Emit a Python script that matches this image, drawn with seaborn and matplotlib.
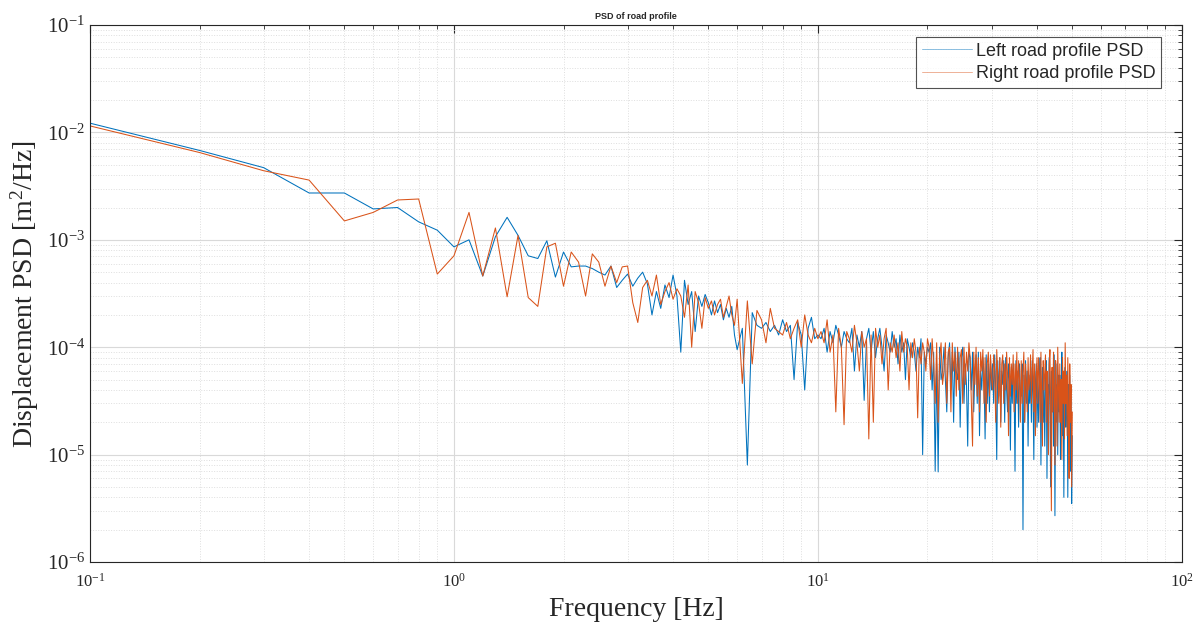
import numpy as np
import pandas as pd
import matplotlib
matplotlib.use("Agg")
import matplotlib.pyplot as plt
import seaborn as sns
from matplotlib.ticker import LogLocator, NullFormatter

# ---------------- data (PSD values in units of 1e-6 m^2/Hz) ----------------
# frequencies 0.1 ... 6.0 Hz (step 0.1) then 6.2 ... 50 Hz (step 0.2)
freq_low = [round(0.1 * k, 1) for k in range(1, 61)]
freq_high = [round(6.0 + 0.2 * k, 1) for k in range(1, 221)]
frequency = freq_low + freq_high

left_low = [
    12200, 6800, 4700, 2730, 2730, 1940, 2000, 1470, 1230, 860,
    1000, 460, 1070, 1620, 1100, 710, 670, 980, 450, 770,
    560, 570, 570, 540, 500, 470, 570, 360, 420, 480,
    370, 440, 500, 390, 200, 330, 230, 380, 290, 470,
    300, 90, 420, 250, 330, 140, 300, 240, 310, 260,
    200, 270, 210, 250, 180, 230, 190, 240, 130, 95,
]
right_low = [
    11500, 6500, 4400, 3600, 1500, 1800, 2350, 2400, 480, 710,
    1800, 460, 1290, 295, 1100, 290, 240, 860, 930, 370,
    770, 620, 300, 740, 620, 370, 570, 400, 560, 570,
    260, 170, 360, 420, 300, 470, 250, 330, 400, 280,
    350, 300, 190, 380, 100, 330, 260, 150, 290, 230,
    270, 200, 250, 280, 190, 240, 300, 200, 160, 280,
]
left_high = [
    150, 8, 210, 160, 150, 170, 140, 160, 130, 180,
    140, 160, 50, 170, 130, 40, 150, 190, 120, 130,
    120, 150, 90, 140, 110, 160, 130, 100, 140, 120,
    110, 150, 60, 130, 100, 140, 32, 120, 150, 90,
    140, 80, 120, 150, 100, 60, 130, 110, 90, 140,
    100, 120, 70, 130, 90, 110, 50, 120, 100, 80,
    110, 90, 60, 100, 80, 120, 10, 90, 70, 100,
    90, 110, 40, 90, 7, 70, 6.9, 100, 50, 60,
    100, 50, 25, 80, 110, 40, 90, 20, 100, 60,
    50, 90, 18, 80, 100, 30, 70, 45, 12, 90,
    80, 40, 90, 25, 60, 85, 30, 90, 15, 60,
    40, 80, 55, 14, 85, 30, 70, 25, 80, 40,
    70, 30, 85, 40, 9, 75, 35, 80, 20, 60,
    45, 75, 20, 80, 40, 25, 70, 50, 11, 65,
    30, 70, 45, 7, 75, 30, 60, 18, 70, 40,
    35, 70, 2, 55, 20, 75, 30, 60, 12, 55,
    30, 65, 20, 75, 35, 9, 60, 30, 70, 18,
    60, 20, 45, 80, 8, 40, 65, 20, 50, 12,
    45, 75, 6, 45, 20, 80, 35, 5, 60, 25,
    50, 12, 85, 2.7, 45, 20, 70, 10, 55, 25,
    55, 9, 35, 90, 15, 50, 4, 35, 65, 18,
    30, 60, 4, 45, 15, 55, 7, 35, 3.5, 15,
]
right_high = [
    46, 270, 70, 220, 180, 110, 230, 150, 140, 130,
    170, 120, 150, 180, 100, 200, 130, 110, 150, 120,
    140, 110, 180, 90, 130, 25, 150, 100, 19, 140,
    120, 90, 160, 110, 60, 140, 100, 120, 14, 130,
    20, 150, 100, 130, 70, 120, 150, 40, 110, 90,
    130, 80, 110, 60, 140, 90, 120, 100, 40, 110,
    80, 120, 90, 22, 100, 70, 110, 90, 60, 120,
    100, 50, 120, 70, 30, 110, 20, 80, 110, 45,
    60, 110, 30, 90, 100, 25, 110, 60, 90, 35,
    100, 40, 80, 95, 30, 100, 45, 90, 60, 110,
    80, 30, 12, 90, 45, 100, 35, 80, 25, 90,
    60, 95, 30, 80, 20, 70, 90, 35, 85, 50,
    40, 85, 60, 20, 95, 55, 30, 80, 18, 70,
    85, 30, 70, 40, 90, 55, 15, 80, 35, 70,
    45, 85, 25, 70, 40, 90, 30, 75, 50, 20,
    75, 30, 60, 90, 20, 70, 45, 25, 80, 40,
    50, 85, 30, 60, 95, 25, 70, 15, 55, 80,
    30, 80, 55, 20, 90, 35, 12, 75, 40, 60,
    85, 20, 60, 40, 10, 70, 95, 30, 3, 65,
    25, 90, 45, 8, 75, 40, 12, 100, 45, 20,
    70, 20, 50, 9, 80, 30, 60, 14, 110, 30,
    55, 15, 80, 25, 6, 70, 20, 45, 5, 25,
]
left_psd = [v * 1e-6 for v in left_low + left_high]
right_psd = [v * 1e-6 for v in right_low + right_high]

labels = ["Left road profile PSD", "Right road profile PSD"]
colors = ["#0072BD", "#D95319"]

df = pd.DataFrame({
    "Frequency": frequency * 2,
    "PSD": left_psd + right_psd,
    "Series": [labels[0]] * len(frequency) + [labels[1]] * len(frequency),
})

# ---------------- style ----------------
sns.set_style("white")
plt.rcParams["font.family"] = ["Liberation Serif", "DejaVu Serif"]
plt.rcParams["mathtext.fontset"] = "custom"
plt.rcParams["mathtext.rm"] = "Liberation Serif"
plt.rcParams["mathtext.it"] = "Liberation Serif:italic"
plt.rcParams["axes.unicode_minus"] = False

fig = plt.figure(figsize=(11.95, 6.26), dpi=100)
ax = fig.add_axes([0.0753, 0.1022, 0.9137, 0.8578])

sns.lineplot(data=df, x="Frequency", y="PSD", hue="Series",
             palette=dict(zip(labels, colors)), linewidth=0.75,
             sort=False, estimator=None, ax=ax)

ax.set_xscale("log")
ax.set_yscale("log")
ax.set_xlim(0.1, 100)
ax.set_ylim(1e-6, 1e-1)

ax.xaxis.set_major_locator(LogLocator(base=10, numticks=10))
ax.xaxis.set_minor_locator(LogLocator(base=10, subs=np.arange(2, 10), numticks=50))
ax.yaxis.set_major_locator(LogLocator(base=10, numticks=10))
ax.yaxis.set_minor_locator(LogLocator(base=10, subs=np.arange(2, 10), numticks=50))
ax.xaxis.set_minor_formatter(NullFormatter())
ax.yaxis.set_minor_formatter(NullFormatter())

ax.grid(True, which="major", color="#d9d9d9", linewidth=0.8, linestyle="-")
ax.grid(True, which="minor", color="#dedede", linewidth=0.7, linestyle=":")
ax.set_axisbelow(True)

ax.tick_params(which="both", direction="in", top=True, right=True, color="#262626")
ax.tick_params(which="major", length=6, width=0.8)
ax.tick_params(which="minor", length=3, width=0.6)
ax.tick_params(axis="y", labelsize=15)
ax.tick_params(axis="x", labelsize=12, pad=8)
for s in ax.spines.values():
    s.set_color("#262626")
    s.set_linewidth(0.8)

ax.set_xlabel("Frequency [Hz]", fontsize=20, labelpad=4)
ax.set_ylabel("Displacement PSD [m$^2$/Hz]", fontsize=20, labelpad=4)
ax.set_title("PSD of road profile", fontsize=6.5, fontweight="bold",
             family=["Liberation Sans", "DejaVu Sans"], pad=4)

leg = ax.legend(loc="upper right", bbox_to_anchor=(0.981, 0.977),
                prop={"family": ["Liberation Sans", "DejaVu Sans"], "size": 13},
                frameon=True, fancybox=False, edgecolor="#262626",
                borderpad=0.3, handlelength=2.8, handletextpad=0.2,
                labelspacing=0.3, borderaxespad=0.0)
leg.get_frame().set_linewidth(0.8)
for line in leg.get_lines():
    line.set_linewidth(0.7)
    line.set_alpha(0.45)

fig.savefig("out.png", dpi=100, facecolor="white")
